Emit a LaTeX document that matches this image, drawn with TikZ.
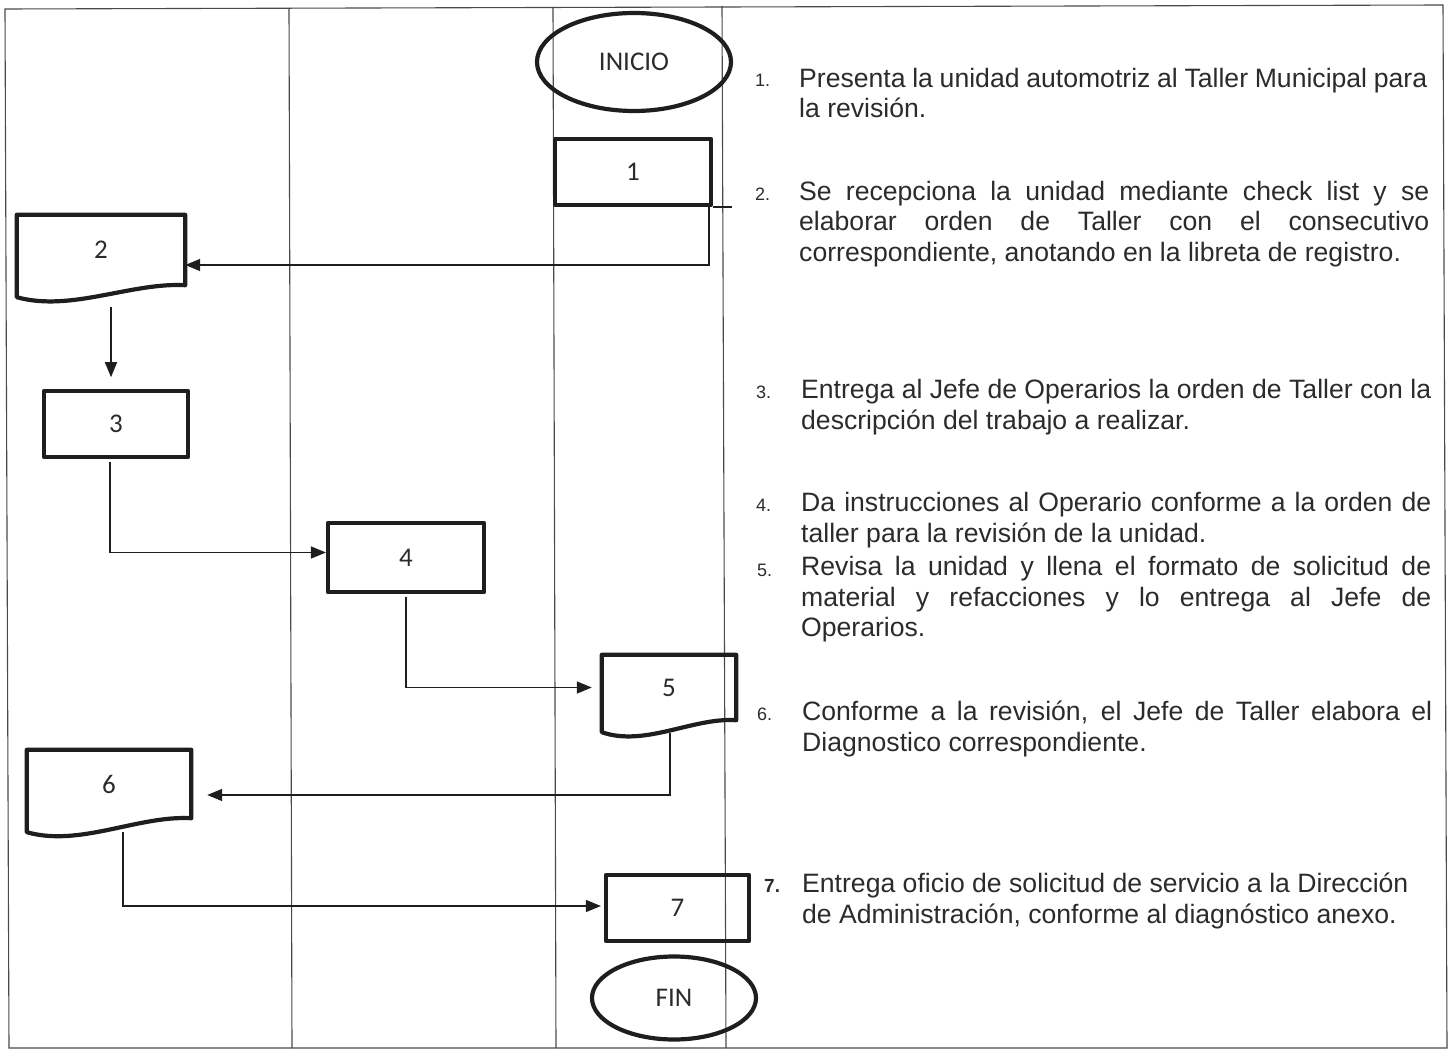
\documentclass[tikz,border=0pt]{standalone}
\usepackage{fontspec}
\setmainfont{Liberation Sans}
\newfontfamily\boxfont{Carlito}
\usetikzlibrary{arrows.meta,calc,shapes.geometric}
\definecolor{ink}{HTML}{1E1E1E}
\definecolor{txt}{HTML}{2B2B2B}
\definecolor{framec}{HTML}{4A4A4A}
\newcommand\fullline[1]{\makebox[630pt][s]{#1}}
\newcommand\docoutline[3]{%
  \draw[boxline] (#1.south east) -- (#1.north east) -- (#1.north west) --
    ($(#1.south west)+(0,#3)$) .. controls +(#2,15) and +(-#2,-3) .. (#1.south east) -- cycle;}
\begin{document}
\begin{tikzpicture}[x=1pt,y=-1pt,
  boxline/.style={line width=4.2pt, draw=ink, line join=round},
  procbox/.style={rectangle, boxline, inner sep=0pt, font=\boxfont\fontsize{27}{30}\selectfont, text=txt},
  docnode/.style={rectangle, inner sep=0pt, font=\boxfont\fontsize{27}{30}\selectfont, text=txt},
  term/.style={ellipse, boxline, inner sep=0pt, font=\boxfont\fontsize{27}{30}\selectfont, text=txt},
  conn/.style={line width=1.4pt, draw=ink, -{Triangle[length=15pt,width=12pt]}},
  plainline/.style={line width=1.4pt, draw=ink},
  lane/.style={line width=1.1pt, draw=framec},
  item/.style={align=left, inner sep=0pt, anchor=north west, font=\fontsize{26.6}{30.8}\selectfont, text=txt},
  num/.style={anchor=base west, inner sep=0pt, font=\fontsize{18}{21}\selectfont, text=txt}
]
\useasboundingbox (0,0) rectangle (1452,1051);
% frame and lanes
\draw[lane] (5,9) -- (1443,5) -- (1447,1048) -- (9,1048) -- cycle;
\draw[lane] (289,8) -- (292,1048);
\draw[lane] (553,7) -- (556,1048);
\draw[lane] (722,6) -- (726,1048);

% nodes
\node[term, minimum width=194pt, minimum height=98pt] (inicio) at (634,62) {INICIO};
\node[procbox, minimum width=156pt, minimum height=66pt] (b1) at (633,172) {1};
\node[docnode, minimum width=168pt, minimum height=70pt] (d2) at (101,250) {2};
\docoutline{d2}{54}{12}
\node[procbox, minimum width=144pt, minimum height=66pt] (b3) at (116,424) {3};
\node[procbox, minimum width=156pt, minimum height=69pt] (b4) at (406,557.5) {4};
\node[docnode, minimum width=134pt, minimum height=65pt] (d5) at (669,687.5) {5};
\docoutline{d5}{43}{12}
\node[docnode, minimum width=164pt, minimum height=68pt] (d6) at (109,784) {6};
\docoutline{d6}{53}{14}
\node[procbox, minimum width=143pt, minimum height=66pt] (b7) at (677.5,908) {7};
\node[term, minimum width=164pt, minimum height=83pt] (fin) at (674,998) {FIN};

% connectors
\draw[plainline] (b1.south east) -- ++(19,0);
\draw[conn] ($(b1.south east)+(-4,0)$) |- ($(d2.east)+(0,15)$);
\draw[conn, shorten >=14pt] ($(d2.south)+(10,22)$) -- ++(0,84);
\draw[conn] ($(b3.south)+(-6,3)$) |- ($(b4.west)+(0,-5)$);
\draw[conn, shorten >=10pt] ($(b4.south)+(0,3)$) |- (d5.west);
\draw[conn, shorten >=16pt] ($(d5.south)+(1,13)$) |- ($(d6.east)+(0,11)$);
\draw[conn, shorten >=3pt] ($(d6.south)+(14,14)$) |- ($(b7.west)+(0,-2)$);

% numbers
\node[num] (n1) at (755,87) {1.};
\node[num] (n2) at (755,201) {2.};
\node[num] (n3) at (756,398) {3.};
\node[num] (n4) at (756,511) {4.};
\node[num] (n5) at (757,576) {5.};
\node[num] (n6) at (757,720) {6.};
\node[num, font=\bfseries\fontsize{19}{22}\selectfont] (n7) at (764,892) {7.};

% texts
\node[item] (t1) at (799,65) {\rule{0pt}{22pt}\makebox[628pt][s]{Presenta la unidad automotriz al Taller Municipal para}\\la revisión.};
\node[item] (t2) at (799,178) {\rule{0pt}{22pt}\fullline{Se recepciona la unidad mediante check list y se}\\\fullline{elaborar orden de Taller con el consecutivo}\\correspondiente, anotando en la libreta de registro.};
\node[item] (t3) at (801,376) {\rule{0pt}{22pt}\fullline{Entrega al Jefe de Operarios la orden de Taller con la}\\descripción del trabajo a realizar.};
\node[item] (t4) at (801,489) {\rule{0pt}{22pt}\fullline{Da instrucciones al Operario conforme a la orden de}\\taller para la revisión de la unidad.};
\node[item] (t5) at (801,553) {\rule{0pt}{22pt}\fullline{Revisa la unidad y llena el formato de solicitud de}\\\fullline{material y refacciones y lo entrega al Jefe de}\\Operarios.};
\node[item] (t6) at (802,698) {\rule{0pt}{22pt}\fullline{Conforme a la revisión, el Jefe de Taller elabora el}\\Diagnostico correspondiente.};
\node[item] (t7) at (802,870) {\rule{0pt}{22pt}Entrega oficio de solicitud de servicio a la Dirección\\de Administración, conforme al diagnóstico anexo.};
\end{tikzpicture}
\end{document}
